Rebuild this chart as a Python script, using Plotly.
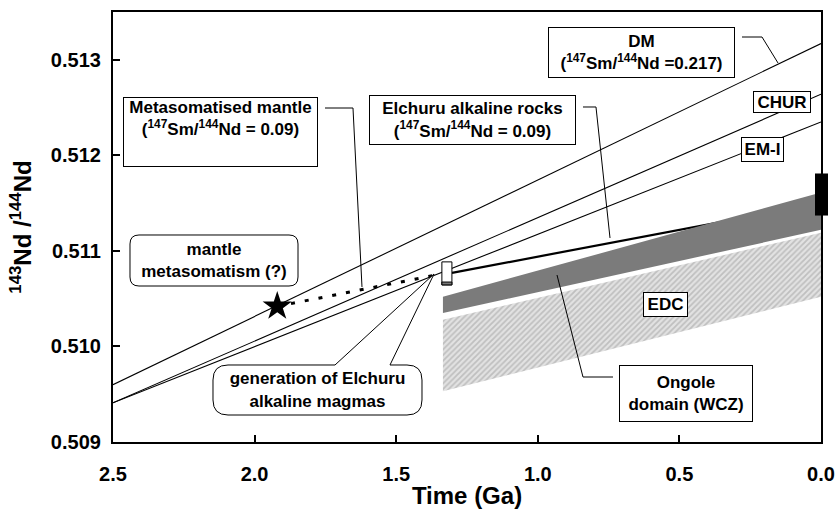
import plotly.graph_objects as go

# ---------------- data ----------------
time_ends = [2.5, 0.0]
dm_nd = [0.50960, 0.51317]
chur_nd = [0.50941, 0.51264]
emi_nd = [0.50941, 0.51235]

star_time = [1.92]
star_nd = [0.51042]

meta_time = [1.92, 1.338]
meta_nd = [0.51042, 0.51076]

elchuru_time = [1.303, 0.0]
elchuru_nd = [0.51077, 0.51150]

elchuru_rock_time = 1.321
elchuru_rock_nd = [0.510644, 0.510885]

ongole_time = [1.335, 0.0, 0.0, 1.335]
ongole_nd = [0.51052, 0.51161, 0.51122, 0.51035]

edc_time = [1.335, 0.0, 0.0, 1.335]
edc_nd = [0.51028, 0.51119, 0.51052, 0.50953]

present_nd = [0.51137, 0.51181]

x_ticks = [2.5, 2.0, 1.5, 1.0, 0.5, 0.0]
y_ticks = [0.509, 0.510, 0.511, 0.512, 0.513]
y_range = [0.509, 0.5135]

# ---------------- layout helpers (pixel -> paper) ----------------
L, R, T, B = 113, 821, 12, 442
def px(x):
    return (x - L) / (R - L)
def py(y):
    return (B - y) / (B - T)
def ydata_to_paper(v):
    return (v - y_range[0]) / (y_range[1] - y_range[0])

def path(cmds):
    out = []
    for c in cmds:
        if isinstance(c, str):
            out.append(c)
        else:
            out.append(f"{px(c[0]):.5f},{py(c[1]):.5f}")
    return " ".join(out)

FONT = "Liberation Sans, Arial, Helvetica, sans-serif"

fig = go.Figure()

# EDC hatched band
fig.add_trace(go.Scatter(
    x=edc_time, y=edc_nd, fill="toself", mode="lines",
    line=dict(width=0, color="rgba(0,0,0,0)"),
    fillcolor="#dcdcdc",
    fillpattern=dict(shape="/", fgcolor="#9c9c9c", bgcolor="#e2e2e2", size=4, solidity=0.45),
    hoverinfo="skip", showlegend=False))

# model evolution lines
for ys in (dm_nd, chur_nd, emi_nd):
    fig.add_trace(go.Scatter(x=time_ends, y=ys, mode="lines",
                             line=dict(color="black", width=1.1),
                             hoverinfo="skip", showlegend=False))

# metasomatised mantle (dotted)
fig.add_trace(go.Scatter(x=meta_time, y=meta_nd, mode="lines",
                         line=dict(color="black", width=3, dash="4px,10px"),
                         hoverinfo="skip", showlegend=False))

# Elchuru evolution (thick)
fig.add_trace(go.Scatter(x=elchuru_time, y=elchuru_nd, mode="lines",
                         line=dict(color="black", width=2.2),
                         hoverinfo="skip", showlegend=False))

# Ongole band (dark grey)
fig.add_trace(go.Scatter(
    x=ongole_time, y=ongole_nd, fill="toself", mode="lines",
    line=dict(width=0, color="rgba(0,0,0,0)"), fillcolor="#7b7b7b",
    hoverinfo="skip", showlegend=False))

# star
fig.add_trace(go.Scatter(x=star_time, y=star_nd, mode="markers",
                         marker=dict(symbol="star", size=22, color="black"),
                         hoverinfo="skip", showlegend=False))

shapes = []
# Elchuru rock box
hw = 0.0177
shapes.append(dict(type="rect", xref="x", yref="y",
                   x0=elchuru_rock_time + hw, x1=elchuru_rock_time - hw,
                   y0=elchuru_rock_nd[0], y1=elchuru_rock_nd[1],
                   fillcolor="white", line=dict(color="black", width=1)))
shapes.append(dict(type="rect", xref="x", yref="y",
                   x0=elchuru_rock_time + hw, x1=elchuru_rock_time - hw,
                   y0=elchuru_rock_nd[0], y1=elchuru_rock_nd[0] + 0.00003,
                   fillcolor="#777777", line=dict(color="black", width=1)))
# present-day bar (straddles the right axis)
shapes.append(dict(type="rect", xref="paper", yref="paper",
                   x0=px(815), x1=px(828),
                   y0=ydata_to_paper(present_nd[0]), y1=ydata_to_paper(present_nd[1]),
                   fillcolor="black", line=dict(width=0)))

# leader lines
leaders = [
    [(325, 108), (353, 108), (362, 287)],
    [(583, 107), (596, 107), (610, 238)],
    [(742, 37), (762, 37), (778, 63)],
    [(613, 377), (583, 377), (557, 275)],
]
for pts in leaders:
    cmds = ["M", pts[0]]
    for p in pts[1:]:
        cmds += ["L", p]
    shapes.append(dict(type="path", xref="paper", yref="paper", path=path(cmds),
                       line=dict(color="black", width=1)))

# rounded box: mantle metasomatism
x0, x1, y0, y1, r = 130, 298, 235, 286, 9
cmds = ["M", (x0 + r, y0), "L", (x1 - r, y0), "Q", (x1, y0), (x1, y0 + r),
        "L", (x1, y1 - r), "Q", (x1, y1), (x1 - r, y1), "L", (x0 + r, y1),
        "Q", (x0, y1), (x0, y1 - r), "L", (x0, y0 + r), "Q", (x0, y0), (x0 + r, y0), "Z"]
shapes.append(dict(type="path", xref="paper", yref="paper", path=path(cmds),
                   fillcolor="white", line=dict(color="black", width=1)))

# callout: generation of Elchuru alkaline magmas
x0, x1, y0, y1, r = 213, 422, 365, 415, 15
cmds = ["M", (x0 + r, y0), "L", (335, y0), "L", (434, 274), "L", (390, y0),
        "L", (x1 - r, y0), "Q", (x1, y0), (x1, y0 + r),
        "L", (x1, y1 - r), "Q", (x1, y1), (x1 - r, y1), "L", (x0 + r, y1),
        "Q", (x0, y1), (x0, y1 - r), "L", (x0, y0 + r), "Q", (x0, y0), (x0 + r, y0), "Z"]
shapes.append(dict(type="path", xref="paper", yref="paper", path=path(cmds),
                   fillcolor="white", line=dict(color="black", width=1)))

fig.update_layout(shapes=shapes)

# text boxes
afont = dict(family=FONT, size=17, color="black", weight="bold")
def box(text, x0, x1, y0, y1, border=True, valign="middle", size=17):
    f = dict(afont)
    f["size"] = size
    fig.add_annotation(
        x=px((x0 + x1) / 2), y=py((y0 + y1) / 2), xref="paper", yref="paper",
        xanchor="center", yanchor="middle", showarrow=False, text=text,
        font=f, align="center", valign=valign,
        width=x1 - x0 - 2, height=y1 - y0 - 2, borderpad=0,
        bgcolor="white" if border else "rgba(0,0,0,0)",
        bordercolor="black" if border else "rgba(0,0,0,0)",
        borderwidth=1 if border else 0)

box("Metasomatised mantle<br>(<sup>147</sup>Sm/<sup>144</sup>Nd = 0.09)", 123, 318, 97, 167, valign="top")
box("Elchuru alkaline rocks<br>(<sup>147</sup>Sm/<sup>144</sup>Nd = 0.09)", 369, 576, 95, 145)
box("DM<br>(<sup>147</sup>Sm/<sup>144</sup>Nd =0.217)", 548, 735, 27, 78)
box("CHUR", 753, 811, 91, 113)
box("EM-I", 741, 784, 137, 162)
box("mantle<br>metasomatism (?)", 130, 298, 235, 286, border=False)
box("generation of Elchuru<br>alkaline magmas", 213, 422, 365, 415, border=False)
box("EDC", 643, 688, 292, 317)
box("Ongole<br>domain (WCZ)", 619, 753, 365, 422)

tickfont = dict(family=FONT, size=20, color="black", weight="bold")
fig.update_xaxes(range=[2.5, 0.0], tickvals=x_ticks, ticktext=[f"{v:.1f}" for v in x_ticks],
                 ticks="inside", ticklen=7, tickwidth=2, tickcolor="black",
                 showline=True, linewidth=2.2, linecolor="black", mirror=True,
                 showgrid=False, zeroline=False, tickfont=tickfont, ticklabelstandoff=13,
                 automargin=False,
                 title=dict(text="Time (Ga)", font=dict(family=FONT, size=24, color="black", weight="bold"),
                            standoff=3))
fig.update_yaxes(range=y_range, tickvals=y_ticks, ticktext=[f"{v:.3f}" for v in y_ticks],
                 ticks="inside", ticklen=7, tickwidth=2, tickcolor="black",
                 showline=True, linewidth=2.2, linecolor="black", mirror=True,
                 showgrid=False, zeroline=False, tickfont=tickfont, ticklabelstandoff=6,
                 automargin=False,
                 title=dict(text="<sup>143</sup>Nd /<sup>144</sup>Nd",
                            font=dict(family=FONT, size=24, color="black", weight="bold"),
                            standoff=12))

fig.update_layout(width=840, height=510, margin=dict(l=113, r=19, t=12, b=68),
                  plot_bgcolor="white", paper_bgcolor="white", showlegend=False)

fig.write_html("out.html")
